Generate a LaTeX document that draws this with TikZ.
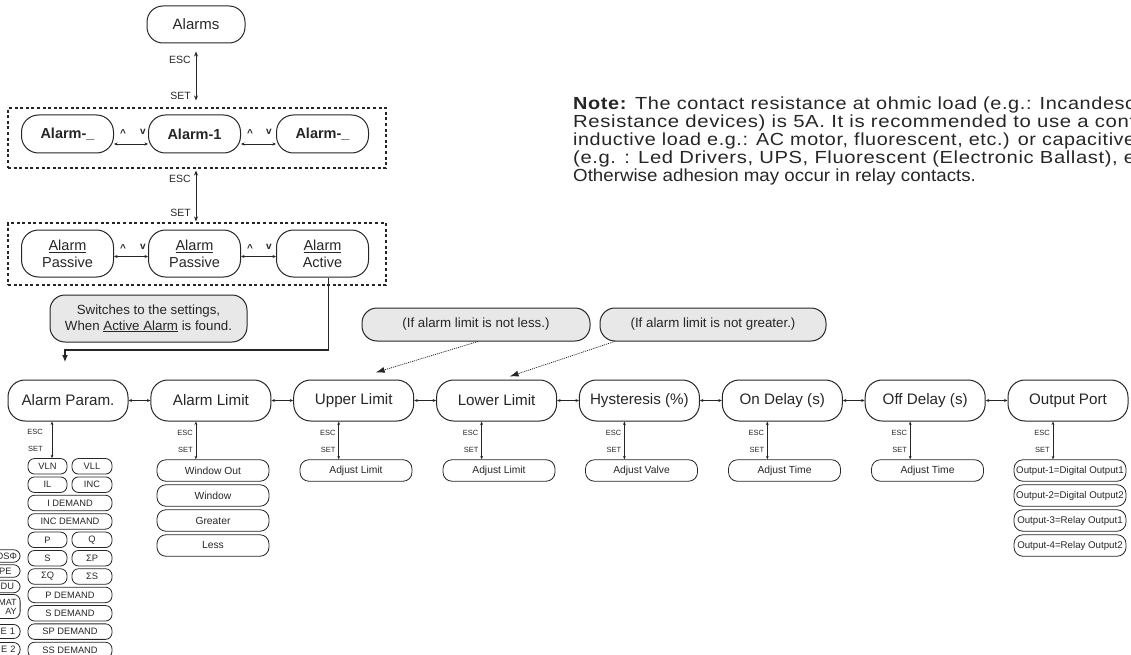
\documentclass[tikz,border=0pt]{standalone}
\usepackage{graphicx}
\usepackage{fontspec}
\setmainfont{Liberation Sans}
\newfontfamily\notefont[LetterSpace=3]{Liberation Sans}
\usetikzlibrary{arrows.meta,calc}
\definecolor{ink}{HTML}{262626}
\definecolor{hintfill}{HTML}{E8E8E8}
\newcommand{\fs}[2]{\fontsize{#1}{#2}\selectfont}
% full lines of the note fill the column width; the last line runs short
\newcommand{\noteline}[1]{\resizebox{562pt}{\height}{\notefont #1}}
\newcommand{\notelast}[1]{\scalebox{1.07}[1]{#1}}

\tikzset{
  every node/.style={text=ink},
  box/.style={draw=ink, line width=1pt, inner sep=1pt, align=center},
  mainbox/.style={box, rounded corners=17pt, minimum width=120pt, minimum height=41pt, font=\fs{15.2}{17}},
  topbox/.style={box, rounded corners=16pt, minimum width=98pt, minimum height=37pt, font=\fs{15}{17}},
  selbox/.style={box, rounded corners=17pt, minimum width=92pt, font=\fs{14.5}{17}},
  optbox/.style={box, line width=0.8pt, rounded corners=9pt, minimum width=112pt, minimum height=21.5pt, font=\fs{10.3}{12}, inner sep=0pt},
  portbox/.style={optbox, font=\fs{9.7}{11}},
  listbox/.style={box, line width=0.8pt, rounded corners=6.5pt, minimum height=15.5pt, font=\fs{9.3}{10}, inner sep=0pt},
  lcut/.style={listbox, anchor=east, text width=40pt, align=right, minimum height=12.5pt},
  hintbox/.style={box, fill=hintfill, rounded corners=15pt, font=\fs{13.3}{15.5}},
  grpbox/.style={draw=ink, line width=1.1pt, dash pattern=on 3pt off 2.6pt, minimum width=378pt, inner sep=0pt},
  keylab/.style={font=\fs{7.5}{9}, inner sep=0pt, anchor=east},
  bigkey/.style={font=\fs{10.5}{12}, inner sep=0pt, anchor=east},
  navlab/.style={font=\bfseries\fs{10}{11}, inner sep=0pt},
  updown/.style={draw=ink, line width=1pt, {Stealth[length=5pt,width=4pt]}-{Stealth[length=5pt,width=4pt]}},
  updownsm/.style={draw=ink, line width=0.7pt, {Stealth[length=3.5pt,width=2.8pt]}-{Stealth[length=3.5pt,width=2.8pt]}},
  sideways/.style={draw=ink, line width=0.7pt, {Stealth[length=3.5pt,width=3pt]}-{Stealth[length=3.5pt,width=3pt]}},
  hintarrow/.style={draw=ink, line width=0.8pt, dash pattern=on 1pt off 1pt, -{Latex[length=9pt,width=6pt]}},
  jump/.style={draw=ink, line width=1.2pt, -{Latex[length=7pt,width=6pt]}},
}

\begin{document}
\begin{tikzpicture}[x=1pt,y=-1pt]
\useasboundingbox (0,0) rectangle (1131,655);
\clip (0,0) rectangle (1131,655);

% ---------- alarm selection ----------
\node[topbox] (alarms) at (196,24.5) {Alarms};

\node[grpbox, minimum height=60pt] (grpA) at (197,138) {};
\node[selbox, minimum height=38pt, font=\bfseries\fs{14.5}{17}] (r1a) at (67.5,134) {Alarm-\_};
\node[selbox, minimum height=38pt, font=\bfseries\fs{14.5}{17}] (r1b) at (194.5,134) {Alarm-1};
\node[selbox, minimum height=38pt, font=\bfseries\fs{14.5}{17}] (r1c) at (322.5,134) {Alarm-\_};

\node[grpbox, minimum height=62pt] (grpB) at (197,254) {};
\node[selbox, minimum height=47pt] (r2a) at (67.5,253.5) {\underline{Alarm}\\Passive};
\node[selbox, minimum height=47pt] (r2b) at (194.5,253.5) {\underline{Alarm}\\Passive};
\node[selbox, minimum height=47pt] (r2c) at (322.5,253.5) {\underline{Alarm}\\Active};

% ESC / SET between the levels
\draw[updown, shorten <=8pt, shorten >=7pt] (alarms.south) -- (alarms.south |- grpA.north);
\node[bigkey] (escA) at (191,60) {ESC};
\node[bigkey] (setA) at (191,96) {SET};
\draw[updown, shorten <=2pt, shorten >=1pt] (grpA.south -| alarms) -- (alarms.south |- grpB.north);
\node[bigkey] (escB) at (191,179) {ESC};
\node[bigkey] (setB) at (191,213) {SET};

% up / down between neighbouring alarms
\draw[sideways] ([yshift=-10pt]r1a.east) -- ([yshift=-10pt]r1b.west);
\draw[sideways] ([yshift=-10pt]r1b.east) -- ([yshift=-10pt]r1c.west);
\draw[sideways] ([yshift=-3pt]r2a.east) -- ([yshift=-3pt]r2b.west);
\draw[sideways] ([yshift=-3pt]r2b.east) -- ([yshift=-3pt]r2c.west);
\node[navlab] (u1) at (123,133) {\textasciicircum};
\node[navlab] (d1) at (143,132) {v};
\node[navlab] (u2) at (250,133) {\textasciicircum};
\node[navlab] (d2) at (269,132) {v};
\node[navlab] (u3) at (123,248) {\textasciicircum};
\node[navlab] (d3) at (143,247) {v};
\node[navlab] (u4) at (250,248) {\textasciicircum};
\node[navlab] (d4) at (269,247) {v};

% active alarm leads to the settings
\node[hintbox, minimum width=197pt, minimum height=47pt] (hint) at (148.5,318.5)
  {Switches to the settings,\\When \underline{Active Alarm} is found.};
\coordinate (bend) at (65,350);
\coordinate (drop) at (65,362);
\draw[jump] ([xshift=6pt]r2c.south) -- ([xshift=6pt]r2c.south |- bend) -- (bend) -- (drop);

% ---------- settings row ----------
\node[mainbox] (m1) at (68,400.5) {Alarm Param.};
\node[mainbox] (m2) at (210.9,400.5) {Alarm Limit};
\node[mainbox] (m3) at (353.7,400.5) {Upper Limit};
\node[mainbox] (m4) at (496.6,400.5) {Lower Limit};
\node[mainbox] (m5) at (639.4,400.5) {Hysteresis (\%)};
\node[mainbox] (m6) at (782.3,400.5) {On Delay (s)};
\node[mainbox] (m7) at (925.2,400.5) {Off Delay (s)};
\node[mainbox] (m8) at (1068,400.5) {Output Port};
\foreach \a/\b in {m1/m2,m2/m3,m3/m4,m4/m5,m5/m6,m6/m7,m7/m8}
  \draw[sideways] (\a.east) -- (\b.west);

% conditions for the limits
\node[hintbox, minimum width=228pt, minimum height=33pt] (nless) at (476,324.5) {(If alarm limit is not less.)};
\node[hintbox, minimum width=226pt, minimum height=33pt] (ngreat) at (713,324.5) {(If alarm limit is not greater.)};
\draw[hintarrow] ([xshift=2pt]nless.south) -- ([xshift=22pt,yshift=7pt]m3.north);
\draw[hintarrow] ([xshift=15pt]ngreat.south west) -- ([xshift=13pt,yshift=3pt]m4.north);

% ---------- alarm parameter list ----------
\node[listbox, minimum width=39pt] (pvln) at (47.5,466.3) {VLN};
\node[listbox, minimum width=40pt] (pvll) at (92,466.3) {VLL};
\node[listbox, minimum width=39pt] (pil) at (47.5,484.7) {IL};
\node[listbox, minimum width=40pt] (pinc) at (92,484.7) {INC};
\node[listbox, minimum width=84pt] (pid) at (70,503.0) {I DEMAND};
\node[listbox, minimum width=84pt] (pincd) at (70,521.4) {INC DEMAND};
\node[listbox, minimum width=39pt] (pp) at (47.5,539.8) {P};
\node[listbox, minimum width=40pt] (pq) at (92,539.8) {Q};
\node[listbox, minimum width=39pt] (ps) at (47.5,558.2) {S};
\node[listbox, minimum width=40pt] (psp) at (92,558.2) {ΣP};
\node[listbox, minimum width=39pt] (psq) at (47.5,576.5) {ΣQ};
\node[listbox, minimum width=40pt] (pss) at (92,576.5) {ΣS};
\node[listbox, minimum width=84pt] (ppd) at (70,594.9) {P DEMAND};
\node[listbox, minimum width=84pt] (psd) at (70,613.3) {S DEMAND};
\node[listbox, minimum width=84pt] (pspd) at (70,631.6) {SP DEMAND};
\node[listbox, minimum width=84pt] (pssd) at (70,650.0) {SS DEMAND};

% second column, running off the left edge
\node[lcut, inner xsep=3pt] (q1) at (20.5,556) {OSΦ};
\node[lcut, inner xsep=8.5pt] (q2) at (20.5,571) {PE};
\node[lcut, inner xsep=6pt] (q3) at (20.5,586.5) {DU};
\node[lcut, inner xsep=3.5pt, minimum height=24pt, font=\fs{9}{9}] (q4) at (20.5,606.5) {MAT\\AY};
\node[lcut, inner xsep=5pt, minimum height=14pt] (q5) at (20.5,631.5) {E 1};
\node[lcut, inner xsep=4.5pt, minimum height=14pt] (q6) at (20.5,649.5) {E 2};

\draw[updownsm] ([xshift=-16pt]m1.south) -- ([xshift=-16pt]m1.south |- pvln.north);
\node[keylab] (esc1) at (43,432) {ESC};
\node[keylab] (set1) at (43,449) {SET};

% ---------- alarm limit options ----------
\node[optbox] (l1) at (213,470.5) {Window Out};
\node[optbox] (l2) at (213,495.5) {Window};
\node[optbox] (l3) at (213,520.5) {Greater};
\node[optbox] (l4) at (213,545.5) {Less};

% ---------- value entries ----------
\node[optbox] (a3) at (356,470.5) {Adjust Limit};
\node[optbox] (a4) at (499,470.5) {Adjust Limit};
\node[optbox] (a5) at (641.5,470.5) {Adjust Valve};
\node[optbox] (a6) at (784.5,470.5) {Adjust Time};
\node[optbox] (a7) at (927.5,470.5) {Adjust Time};

% ---------- output ports ----------
\node[portbox] (o1) at (1070,470.5) {Output-1=Digital Output1};
\node[portbox] (o2) at (1070,495.5) {Output-2=Digital Output2};
\node[portbox] (o3) at (1070,520.5) {Output-3=Relay Output1};
\node[portbox] (o4) at (1070,545.5) {Output-4=Relay Output2};

% ESC / SET under the settings
\foreach \m/\s in {m2/l1,m3/a3,m4/a4,m5/a5,m6/a6,m7/a7,m8/o1}{
  \draw[updownsm] ([xshift=-15pt]\m.south) -- ([xshift=-15pt]\m.south |- \s.north);
  \node[keylab] at ($([xshift=-18pt]\m.south)+(0,11)$) {ESC};
  \node[keylab] at ($([xshift=-18pt]\m.south)+(0,28)$) {SET};
}

% ---------- note ----------
\node[anchor=north west, align=left, inner sep=0pt, font=\fs{17.5}{18}] (note) at (573,97)
  {\noteline{\textbf{Note:} The contact resistance at ohmic load (e.g.: Incandesc}\\
   \noteline{Resistance devices) is 5A. It is recommended to use a cont}\\
   \noteline{inductive load e.g.: AC motor, fluorescent, etc.) or capacitive}\\
   \noteline{(e.g. : Led Drivers, UPS, Fluorescent (Electronic Ballast), e}\\
   \notelast{Otherwise adhesion may occur in relay contacts.}};
\end{tikzpicture}
\end{document}
